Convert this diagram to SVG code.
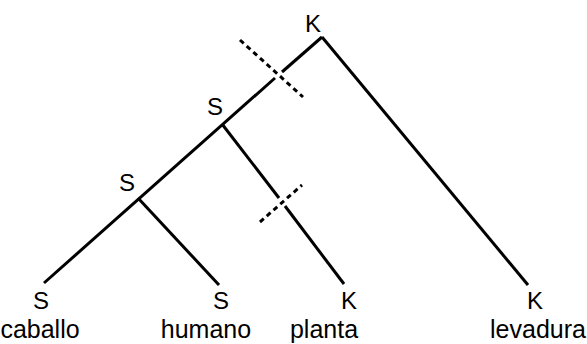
<svg xmlns="http://www.w3.org/2000/svg" width="587" height="344" viewBox="0 0 587 344">
  <style>
    .edge { stroke: #000; stroke-width: 3; fill: none; stroke-linecap: butt; }
    .cut { stroke: #000; stroke-width: 3; fill: none; stroke-dasharray: 5 4; }
    .tag { font-family: "Liberation Sans", Arial, sans-serif; font-size: 24px; fill: #000; text-anchor: middle; }
    .name { font-family: "Liberation Sans", Arial, sans-serif; font-size: 25px; fill: #000; text-anchor: middle; }
  </style>
  <rect width="587" height="344" fill="#fff"/>

  <!-- branches -->
  <g id="connectors">
    <!-- root to caballo, broken where the upper cut crosses -->
    <line class="edge" x1="322" y1="37" x2="282" y2="72"/>
    <line class="edge" x1="275" y1="78" x2="44" y2="283"/>
    <!-- root to levadura -->
    <line class="edge" x1="322" y1="37" x2="528" y2="285"/>
    <!-- upper speciation to planta, broken at the lower cut -->
    <line class="edge" x1="222" y1="124" x2="279" y2="198"/>
    <line class="edge" x1="285" y1="206" x2="344" y2="284"/>
    <!-- lower speciation to humano -->
    <line class="edge" x1="138" y1="198" x2="219" y2="285"/>
    <!-- cut marks -->
    <line class="cut" x1="240" y1="40" x2="303" y2="97"/>
    <line class="cut" x1="260" y1="222" x2="302" y2="185"/>
  </g>

  <g id="root"><text class="tag" x="313" y="32">K</text></g>
  <g id="spec-upper"><text class="tag" x="215" y="115">S</text></g>
  <g id="spec-lower"><text class="tag" x="127" y="191">S</text></g>

  <g id="caballo">
    <text class="tag" x="41" y="309">S</text>
    <text class="name" x="40" y="338">caballo</text>
  </g>
  <g id="humano">
    <text class="tag" x="221" y="309">S</text>
    <text class="name" x="206" y="338">humano</text>
  </g>
  <g id="planta">
    <text class="tag" x="349" y="309">K</text>
    <text class="name" x="324" y="338">planta</text>
  </g>
  <g id="levadura">
    <text class="tag" x="535" y="309">K</text>
    <text class="name" x="538" y="338">levadura</text>
  </g>
</svg>
